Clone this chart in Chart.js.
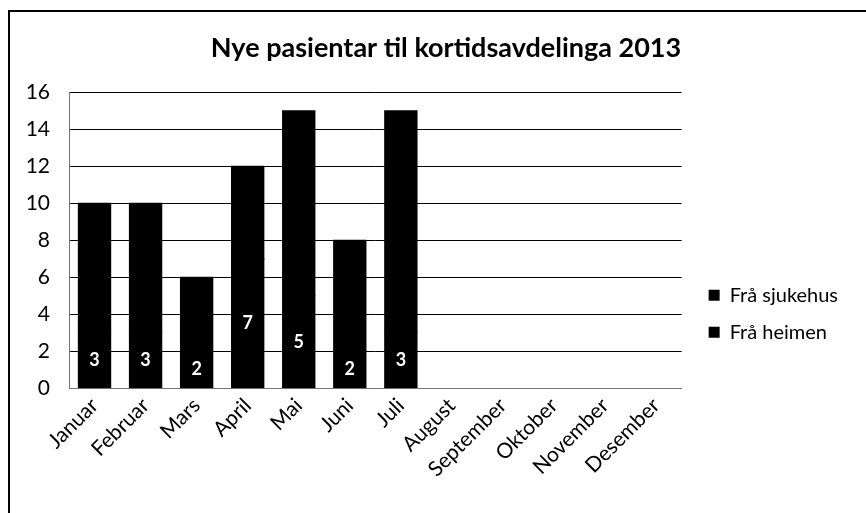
<!DOCTYPE html>
<html>
<head>
<meta charset="utf-8">
<title>Nye pasientar til kortidsavdelinga 2013</title>
<script src="https://cdn.jsdelivr.net/npm/chart.js@4/dist/chart.umd.min.js"></script>
<style>
body { margin: 0; background: #fff; }
#wrap { position: relative; width: 866px; height: 513px; overflow: hidden; }
#frame { position: absolute; left: 8px; top: 10px; right: -10px; bottom: -10px;
         border-left: 2px solid #000; border-top: 2px solid #000; pointer-events: none; }
</style>
</head>
<body>
<div id="wrap">
    <canvas id="myChart" width="866" height="513"></canvas>
    <div id="frame"></div>
</div>
<script>
// data
const months = ['Januar', 'Februar', 'Mars', 'April', 'Mai', 'Juni', 'Juli',
                'August', 'September', 'Oktober', 'November', 'Desember'];
const fraHeimen   = [3, 3, 2, 7, 5, 2, 3, null, null, null, null, null];
const fraSjukehus = [7, 7, 4, 5, 10, 6, 12, null, null, null, null, null];
const yMin = 0;
const yMax = 16;
const yStep = 2;

const FONT = 'Lato';

// white value labels in the middle of the bottom segment
const barLabels = {
    id: 'barLabels',
    afterDatasetsDraw(chart) {
        const meta = chart.getDatasetMeta(0);
        const ctx = chart.ctx;
        ctx.save();
        ctx.font = 'bold 18px ' + FONT;
        ctx.fillStyle = '#fff';
        ctx.textAlign = 'center';
        ctx.textBaseline = 'middle';
        meta.data.forEach(function (bar, i) {
            const v = fraHeimen[i];
            if (v == null) return;
            ctx.fillText(String(v), bar.x, (bar.y + bar.base) / 2);
        });
        ctx.restore();
    }
};

const ctx = document.getElementById('myChart').getContext('2d');
const myChart = new Chart(ctx, {
    type: 'bar',
    data: {
        labels: months,
        datasets: [{
            label: 'Frå heimen',
            data: fraHeimen,
            backgroundColor: '#000',
            borderWidth: 0,
            inflateAmount: 0.6,
            categoryPercentage: 1,
            barPercentage: 0.63
        }, {
            label: 'Frå sjukehus',
            data: fraSjukehus,
            backgroundColor: '#000',
            borderWidth: 0,
            inflateAmount: 0.6,
            categoryPercentage: 1,
            barPercentage: 0.63
        }]
    },
    options: {
        responsive: false,
        animation: false,
        layout: { padding: { left: 26, right: 0, top: 14, bottom: 26 } },
        plugins: {
            title: {
                display: true,
                text: 'Nye pasientar til kortidsavdelinga 2013',
                color: '#000',
                font: { family: FONT, size: 27, weight: 'bold' },
                padding: { top: 18, bottom: 28 }
            },
            legend: {
                position: 'right',
                reverse: true,
                // empty title only pushes the two entries down
                title: { display: true, text: ' ', font: { size: 12 }, padding: { top: 112, bottom: 0 } },
                labels: {
                    boxWidth: 11,
                    boxHeight: 11,
                    padding: 17,
                    color: '#000',
                    font: { family: FONT, size: 20 }
                }
            },
            tooltip: { enabled: false }
        },
        scales: {
            x: {
                stacked: true,
                grid: { display: false, drawTicks: false },
                border: { color: '#777' },
                ticks: {
                    color: '#000',
                    autoSkip: false,
                    minRotation: 45,
                    maxRotation: 45,
                    padding: 5,
                    font: { family: FONT, size: 21 }
                }
            },
            y: {
                stacked: true,
                min: yMin,
                max: yMax,
                grid: { color: '#000', drawTicks: false },
                border: { color: '#777' },
                ticks: {
                    stepSize: yStep,
                    padding: 19,
                    color: '#000',
                    font: { family: FONT, size: 21 }
                },
                afterFit: function (scale) { scale.width = 43; }
            },
            // hidden axes used only as spacing around the legend
            gap: {
                type: 'linear',
                position: 'right',
                display: false,
                afterFit: function (scale) { scale.width = 10; }
            },
            edge: {
                type: 'linear',
                position: 'right',
                weight: 2000,
                display: false,
                afterFit: function (scale) { scale.width = 18; }
            }
        }
    },
    plugins: [barLabels]
});
</script>
</body>
</html>
